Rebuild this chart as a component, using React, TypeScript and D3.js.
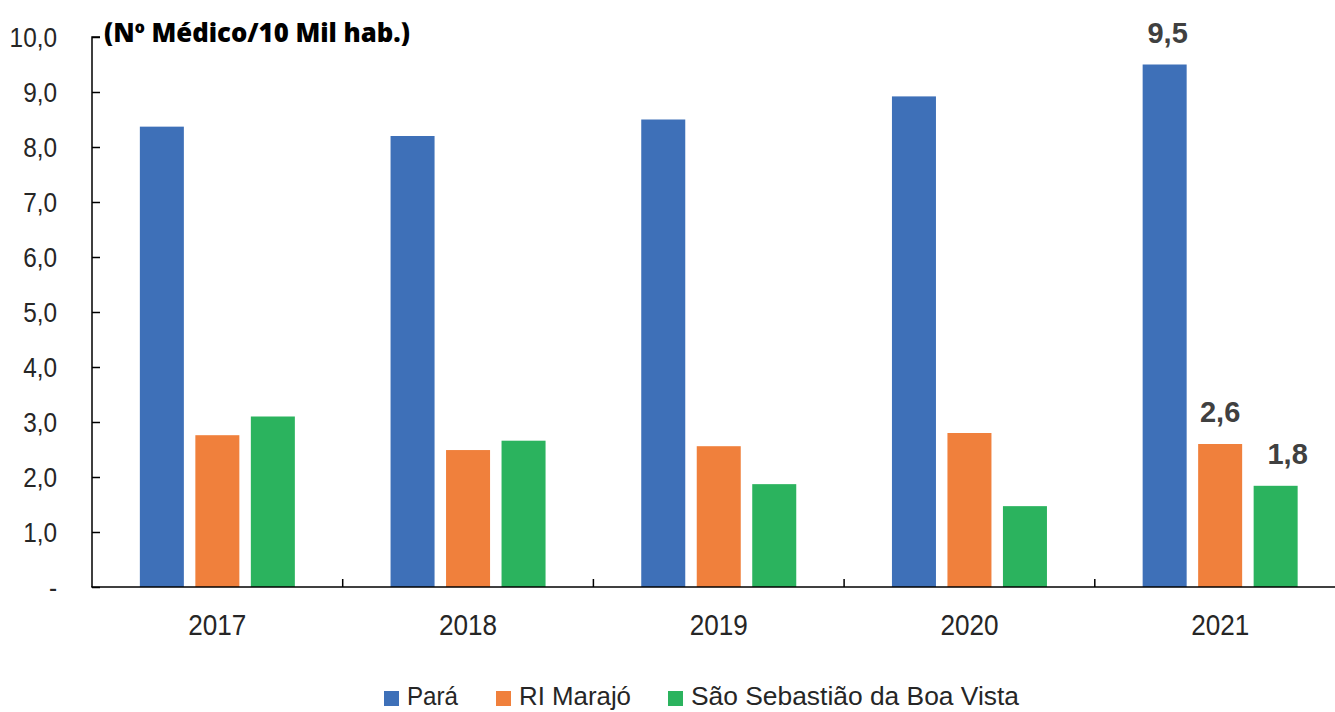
import { useEffect, useRef } from 'react';
import * as d3 from 'd3';

const years = ['2017', '2018', '2019', '2020', '2021'];
const seriesNames = ['Pará', 'RI Marajó', 'São Sebastião da Boa Vista'];
const para = [8.37, 8.2, 8.5, 8.92, 9.5];
const marajo = [2.76, 2.49, 2.56, 2.8, 2.6];
const ssbv = [3.1, 2.66, 1.87, 1.47, 1.84];
const yTicks = [0, 1, 2, 3, 4, 5, 6, 7, 8, 9, 10];
const colors = ['#3E70B8', '#F0803C', '#2BB35E'];
// labelled values (last year only)
const labels = [
  { year: '2021', series: 0, text: '9,5' },
  { year: '2021', series: 1, text: '2,6' },
  { year: '2021', series: 2, text: '1,8' },
];

const W = 1335;
const H = 712;
const sans = '"Liberation Sans", Arial, sans-serif';
const squeeze = 0.87; // narrow look of the original font

const App = () => {
  const svgRef = useRef<SVGSVGElement | null>(null);

  useEffect(() => {
    const svg = d3.select(svgRef.current);
    svg.selectAll('*').remove();

    const left = 92;
    const band = 250.7;
    const x = d3.scaleBand().domain(years).range([left, left + band * years.length]).padding(0);
    const y = d3.scaleLinear().domain([0, 10]).range([587, 37]);
    const xs = d3.scaleBand().domain(['0', '1', '2']).range([-77.5, 77.5]).paddingInner(0.207);

    const values = [para, marajo, ssbv];
    const g = svg.append('g');

    // bars
    values.forEach((vals, si) => {
      g.selectAll(`.bar-${si}`)
        .data(vals)
        .enter()
        .append('rect')
        .attr('x', (d, i) => x(years[i])! + x.bandwidth() / 2 + xs(String(si))!)
        .attr('y', d => y(d))
        .attr('width', xs.bandwidth())
        .attr('height', d => y(0) - y(d))
        .attr('fill', colors[si]);
    });

    // y axis
    const yAxis = g.append('g')
      .attr('transform', `translate(${left},0)`)
      .call(d3.axisRight(y).tickValues(yTicks).tickSize(8).tickFormat(() => ''));
    yAxis.select('.domain').attr('d', `M8,${y(10)}H0V${y(0)}`).attr('stroke', '#000').attr('stroke-width', 1.5);
    yAxis.selectAll('.tick line').attr('stroke', '#000').attr('stroke-width', 1.5);

    g.selectAll('.ylab')
      .data(yTicks)
      .enter()
      .append('text')
      .attr('transform', d => `translate(57,${y(d) + 10}) scale(${squeeze},1)`)
      .attr('text-anchor', 'end')
      .style('font-family', sans)
      .style('font-size', '28px')
      .style('fill', '#262626')
      .text(d => (d === 0 ? '-' : d3.format('.1f')(d).replace('.', ',')));

    // x axis
    const xAxisG = g.append('g').attr('transform', `translate(0,${y(0)})`);
    xAxisG.append('line')
      .attr('x1', left - 0.75).attr('x2', W)
      .attr('stroke', '#000').attr('stroke-width', 1.5);
    xAxisG.selectAll('.xt')
      .data(years.slice(1))
      .enter()
      .append('line')
      .attr('x1', d => x(d)!).attr('x2', d => x(d)!)
      .attr('y1', 0).attr('y2', -8)
      .attr('stroke', '#000').attr('stroke-width', 1.5);

    g.selectAll('.xlab')
      .data(years)
      .enter()
      .append('text')
      .attr('transform', d => `translate(${x(d)! + x.bandwidth() / 2},635) scale(${squeeze},1)`)
      .attr('text-anchor', 'middle')
      .style('font-family', sans)
      .style('font-size', '30px')
      .style('fill', '#262626')
      .text(d => d);

    // data labels
    g.selectAll('.dlab')
      .data(labels)
      .enter()
      .append('text')
      .attr('x', d => x(d.year)! + x.bandwidth() / 2 + xs(String(d.series))! + xs.bandwidth() / 2 + (d.series === 2 ? 12 : d.series === 0 ? 3 : 0))
      .attr('y', d => y(values[d.series][years.indexOf(d.year)]) - 22)
      .attr('text-anchor', 'middle')
      .style('font-family', sans)
      .style('font-size', '29px')
      .style('font-weight', 'bold')
      .style('fill', '#404040')
      .text(d => d.text);

    // unit title
    g.append('text')
      .attr('x', 104)
      .attr('y', 42)
      .style('font-family', '"Open Sans", "Noto Sans", sans-serif')
      .style('font-size', '26px')
      .style('font-weight', 800)
      .style('fill', '#000')
      .attr('textLength', 306)
      .attr('lengthAdjust', 'spacingAndGlyphs')
      .text('(Nº Médico/10 Mil hab.)');

    // legend
    const squareX = [384, 496, 668];
    const legendWidths = [51, 112, 328];
    const legend = g.selectAll('.leg')
      .data(seriesNames)
      .enter()
      .append('g')
      .attr('transform', (d, i) => `translate(${squareX[i]},705)`);
    legend.append('rect')
      .attr('x', 0).attr('y', -14)
      .attr('width', 15).attr('height', 15)
      .attr('fill', (d, i) => colors[i]);
    legend.append('text')
      .attr('x', 23)
      .attr('textLength', (d, i) => legendWidths[i])
      .attr('lengthAdjust', 'spacingAndGlyphs')
      .style('font-family', sans)
      .style('font-size', '26px')
      .style('fill', '#262626')
      .text(d => d);
  }, []);

  return (
    <svg
      ref={svgRef}
      width={W}
      height={H}
      style={{ position: 'absolute', left: 0, top: 0, background: '#fff' }}
    />
  );
};

export default App;
